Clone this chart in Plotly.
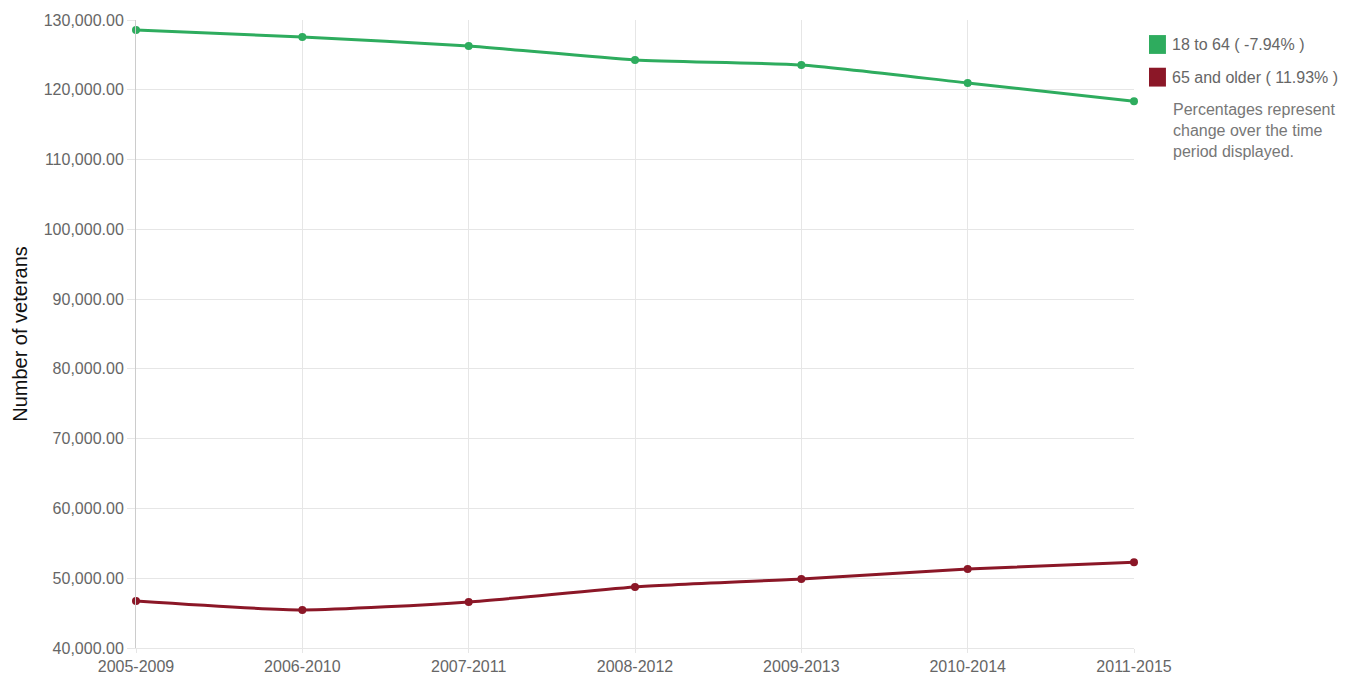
import plotly.graph_objects as go

periods = ['2005-2009', '2006-2010', '2007-2011', '2008-2012', '2009-2013', '2010-2014', '2011-2015']
age_18_64 = [128550, 127560, 126270, 124270, 123550, 120970, 118350]
age_65_plus = [46720, 45450, 46600, 48750, 49890, 51330, 52290]
series_names = ['18 to 64 ( -7.94% )', '65 and older ( 11.93% )']
colors = ['#2eac5e', '#8b1727']
note = 'Percentages represent<br>change over the time<br>period displayed.'

fig = go.Figure()
for vals, name, c in zip([age_18_64, age_65_plus], series_names, colors):
    fig.add_trace(go.Scatter(x=periods, y=vals, name=name, mode='lines+markers',
                             line=dict(color=c, width=3, shape='spline', smoothing=0.6),
                             marker=dict(color=c, size=8), cliponaxis=False, showlegend=False))

# custom legend on the right
for i, (name, c) in enumerate(zip(series_names, colors)):
    y_top = 0.976 - i * 0.052
    fig.add_shape(type='rect', xref='paper', yref='paper', x0=1.015, x1=1.032,
                  y0=y_top - 0.030, y1=y_top, fillcolor=c, line=dict(width=0))
    fig.add_annotation(xref='paper', yref='paper', x=1.036, y=y_top - 0.015, text=name,
                       showarrow=False, xanchor='left', yanchor='middle',
                       font=dict(size=16, color='#666666'))
fig.add_annotation(xref='paper', yref='paper', x=1.037, y=0.874, text=note, align='left',
                   showarrow=False, xanchor='left', yanchor='top',
                   font=dict(size=16, color='#777777'))

# the page has an 8px body margin, so the figure is sized and offset for it
fig.update_layout(
    width=1349, height=666,
    margin=dict(l=128, r=223, t=12, b=26, autoexpand=False),
    paper_bgcolor='white', plot_bgcolor='white',
    font=dict(family='Liberation Sans, Arial, sans-serif', size=16, color='#666666'),
)
fig.update_xaxes(range=[0, 6], showgrid=True, gridcolor='#e6e6e6', gridwidth=1,
                 ticks='outside', ticklen=4, tickcolor='#e6e6e6', zeroline=False,
                 showline=True, linecolor='#e6e6e6', automargin=False,
                 tickfont=dict(size=16, color='#666666'))
fig.update_yaxes(range=[40000, 130000], dtick=10000, tickformat=',.2f',
                 showgrid=True, gridcolor='#e6e6e6', gridwidth=1, zeroline=False,
                 ticks='outside', ticklen=8, tickcolor='#e6e6e6',
                 showline=True, linecolor='#cccccc', automargin=False,
                 title=dict(text='Number of veterans', font=dict(size=20, color='#111111'), standoff=10),
                 tickfont=dict(size=16, color='#666666'))

fig.write_html('out.html')
